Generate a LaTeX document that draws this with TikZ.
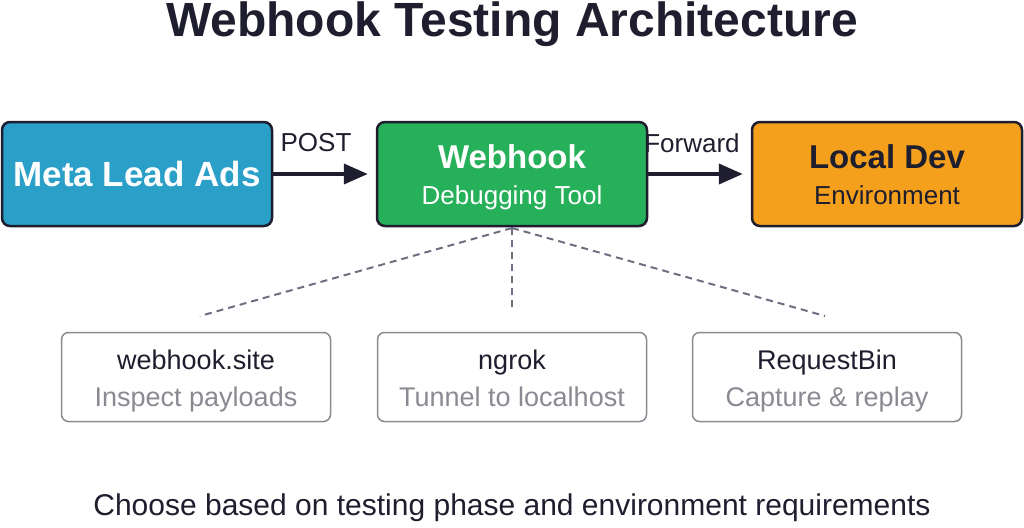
\documentclass[tikz,border=0pt]{standalone}
\usepackage{fontspec}
\setmainfont{Liberation Sans}
\usetikzlibrary{arrows.meta}
\definecolor{ink}{HTML}{1E1E2E}
\definecolor{cblue}{HTML}{2A9FC8}
\definecolor{cgreen}{HTML}{27B05A}
\definecolor{corange}{HTML}{F4A01C}
\definecolor{dashgray}{HTML}{6E6E80}
\definecolor{sub}{HTML}{8A8A92}
\begin{document}
\begin{tikzpicture}[x=1pt,y=-1pt,
 main/.style={draw=ink,line width=2.5pt,rounded corners=8pt,minimum width=270pt,minimum height=104pt,align=center,inner sep=0pt},
 tool/.style={draw=sub,line width=1.5pt,rounded corners=7pt,fill=white,minimum width=269pt,minimum height=89pt,inner sep=0pt},
 ttxt/.style={align=center,inner sep=0pt,font=\fontsize{27}{37}\selectfont},
 mtxt/.style={align=center,inner sep=0pt,font=\fontsize{26}{36}\selectfont},
 conn/.style={ink,line width=4pt,shorten >=8pt,-{Triangle[length=24pt,width=20pt]}},
 dl/.style={dashgray,line width=2pt,dash pattern=on 7pt off 5pt},
 lbl/.style={font=\fontsize{26}{30}\selectfont,text=ink}]
\useasboundingbox (0,0) rectangle (1024,527);
\node[font=\fontsize{48}{54}\selectfont\bfseries,text=ink] (title) at (512,24) {Webhook Testing Architecture};
\node[main,fill=cblue,text=white,font=\fontsize{35}{40}\selectfont\bfseries] (meta) at (137,174) {Meta Lead Ads};
\node[main,fill=cgreen] (wh) at (512,174) {};
\node[mtxt,text=white] (whT) at (512,179) {{\fontsize{33}{36}\selectfont\bfseries Webhook}\strut\\{Debugging Tool}\strut};
\node[main,fill=corange] (dev) at (887,174) {};
\node[mtxt,text=ink] (devT) at (887,179) {{\fontsize{33}{36}\selectfont\bfseries Local Dev}\strut\\{Environment}\strut};
\draw[conn] (meta.east) -- (wh.west);
\draw[conn] (wh.east) -- (dev.west);
\node[lbl] (post) at (316,143) {POST};
\node[lbl] (fwd) at (692,143) {Forward};
\coordinate (w0) at (512,228);
\coordinate (t1) at (200,316);
\coordinate (t2) at (512,310);
\coordinate (t3) at (825,316);
\draw[dl] (w0) -- (t1);
\draw[dl] (w0) -- (t2);
\draw[dl] (w0) -- (t3);
\node[tool] (a) at (196,377) {};
\node[ttxt] (aT) at (196,381) {{\color{ink}webhook.site}\strut\\{\color{sub}Inspect payloads}\strut};
\node[tool] (b) at (512,377) {};
\node[ttxt] (bT) at (512,381) {{\color{ink}ngrok}\strut\\{\color{sub}Tunnel to localhost}\strut};
\node[tool] (c) at (827,377) {};
\node[ttxt] (cT) at (827,381) {{\color{ink}RequestBin}\strut\\{\color{sub}Capture \& replay}\strut};
\node[font=\fontsize{30}{34}\selectfont,text=ink] (foot) at (512,508) {Choose based on testing phase and environment requirements};
\end{tikzpicture}
\end{document}
